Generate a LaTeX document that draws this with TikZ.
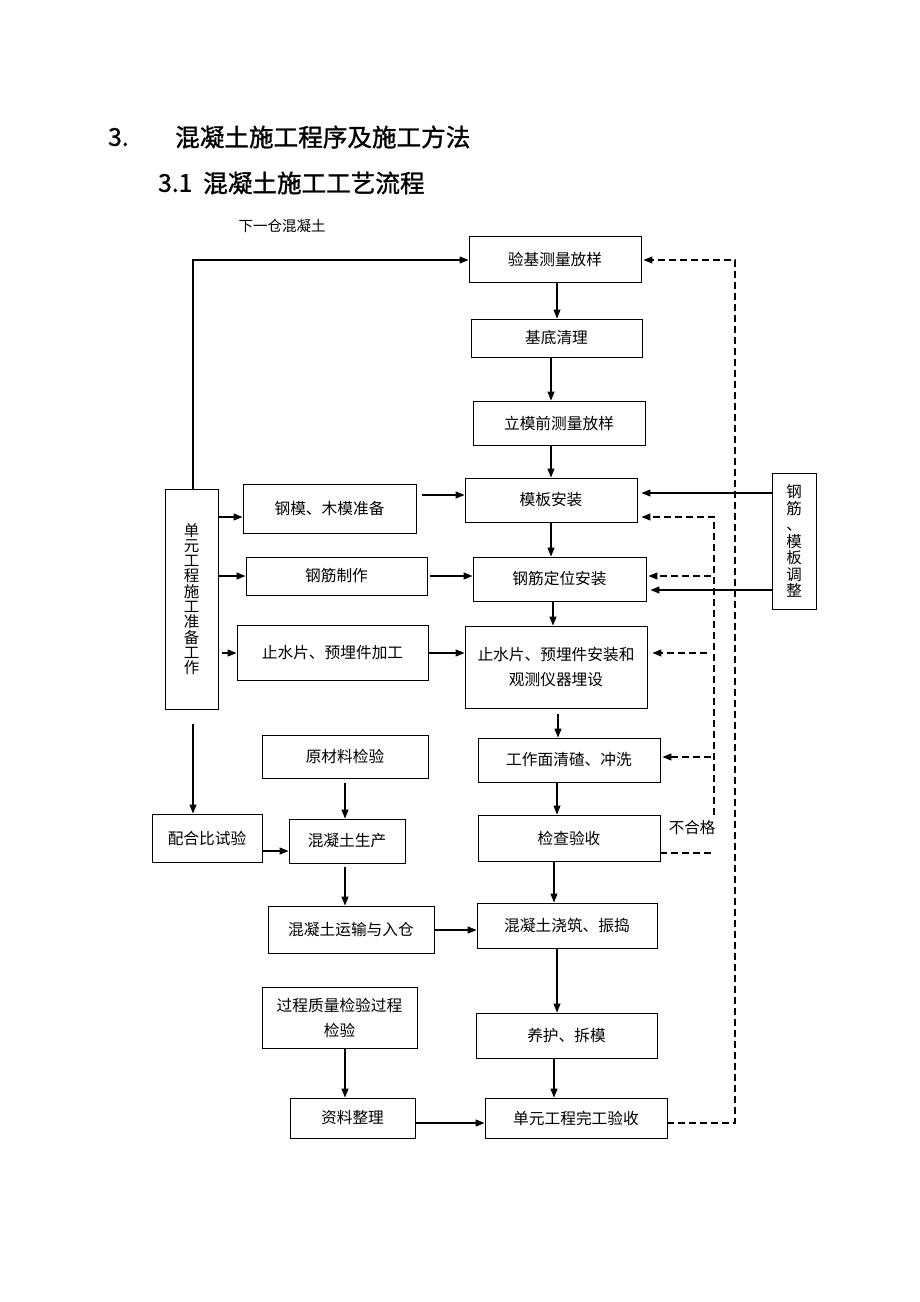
\documentclass[tikz,border=0pt]{standalone}
\usepackage{fontspec}
\setmainfont{Noto Sans CJK SC}
\newfontfamily\titlefont[FakeBold=1.2]{Noto Sans CJK SC}
\usetikzlibrary{arrows.meta}
\begin{document}
\begin{tikzpicture}[x=1pt,y=-1pt,
  box/.style={draw, line width=0.9pt, inner sep=0pt, align=center,
    font=\fontsize{15.7}{25}\selectfont},
  lbl/.style={inner sep=0pt, font=\fontsize{15.5}{18}\selectfont},
  ttl/.style={inner sep=0pt, anchor=west, font=\titlefont\fontsize{24.6}{28}\selectfont},
  arr/.style={-{Triangle[length=9pt,width=7pt]}, line width=1.2pt},
  darr/.style={-{Triangle[length=9pt,width=7pt]}, line width=1.2pt, dash pattern=on 7pt off 4pt},
  dln/.style={line width=1.2pt, dash pattern=on 7pt off 4pt},
]
\useasboundingbox[fill=white] (0,0) rectangle (920,1302);

% titles
\node[ttl] (t1n) at (108,137) {3.};
\node[ttl] (t1) at (175,137) {混凝土施工程序及施工方法};
\node[ttl] (t2n) at (158,183) {3.1};
\node[ttl] (t2) at (203,183) {混凝土施工工艺流程};
\node[lbl, font=\fontsize{14.5}{16}\selectfont] (next) at (282,226) {下一仓混凝土};

% main column
\node[box, minimum width=172pt, minimum height=46pt] (jy) at (555,259) {验基测量放样};
\node[box, minimum width=171pt, minimum height=38pt] (jd) at (556.5,338) {基底清理};
\node[box, minimum width=172pt, minimum height=44pt] (lm) at (559,423) {立模前测量放样};
\node[box, minimum width=172pt, minimum height=44pt] (mb) at (551,500) {模板安装};
\node[box, minimum width=173pt, minimum height=44pt] (gd) at (559.5,579) {钢筋定位安装};
\node[box, minimum width=182pt, minimum height=82pt] (zs) at (556,667) {止水片、预埋件安装和\\观测仪器埋设};
\node[box, minimum width=182pt, minimum height=44pt] (gzm) at (569,760) {工作面清碴、冲洗};
\node[box, minimum width=182pt, minimum height=46pt] (jc) at (569,838) {检查验收};
\node[box, minimum width=180pt, minimum height=45pt] (jz) at (567,925.5) {混凝土浇筑、振捣};
\node[box, minimum width=181pt, minimum height=45pt] (yh) at (566.5,1035.5) {养护、拆模};
\node[box, minimum width=182pt, minimum height=40pt] (wg) at (576,1118) {单元工程完工验收};

% right side
\node[box, minimum width=44pt, minimum height=136pt, font=\fontsize{15.5}{16.5}\selectfont] (tz) at (794,541) {钢\\筋\\、\\模\\板\\调\\整};

% left side
\node[box, minimum width=53pt, minimum height=220pt, font=\fontsize{15.5}{15.3}\selectfont] (dy) at (191.5,599) {单\\元\\工\\程\\施\\工\\准\\备\\工\\作};
\node[box, minimum width=173pt, minimum height=49pt] (gm) at (329.5,508.5) {钢模、木模准备};
\node[box, minimum width=181pt, minimum height=38pt] (gz) at (336.5,576) {钢筋制作};
\node[box, minimum width=191pt, minimum height=55pt] (zj) at (332.5,652.5) {止水片、预埋件加工};
\node[box, minimum width=166pt, minimum height=43pt] (ycl) at (345,756.5) {原材料检验};
\node[box, minimum width=110pt, minimum height=48pt] (ph) at (207,838) {配合比试验};
\node[box, minimum width=116pt, minimum height=44pt] (sc) at (347,841) {混凝土生产};
\node[box, minimum width=166pt, minimum height=47pt] (ys) at (351,929.5) {混凝土运输与入仓};
\node[box, minimum width=155pt, minimum height=61pt] (gc) at (339.5,1017.5) {过程质量检验过程\\检验};
\node[box, minimum width=125pt, minimum height=40pt] (zl) at (352.5,1118) {资料整理};

\node[lbl] (bhg) at (692,828) {不合格};

% main column arrows
\draw[arr] (jy.south -| 557,0) -- (jd.north -| 557,0);
\draw[arr] (jd.south -| 551,0) -- (lm.north -| 551,0);
\draw[arr] (lm.south -| 551,0) -- (mb.north -| 551,0);
\draw[arr] (mb.south -| 551,0) -- (gd.north -| 551,0);
\draw[arr] (gd.south -| 553,0) -- (zs.north -| 553,0);
\coordinate (zsb) at (558,714);
\draw[arr] (zsb) -- (gzm.north -| zsb);
\draw[arr] (gzm.south -| 557,0) -- (jc.north -| 557,0);
\draw[arr] (jc.south -| 554,0) -- (jz.north -| 554,0);
\draw[arr] (jz.south -| 557,0) -- (yh.north -| 557,0);
\draw[arr] (yh.south -| 554,0) -- (wg.north -| 554,0);

% top loop
\coordinate (tp) at (193,260);
\draw[arr] (dy.north -| tp) -- (tp) -- (jy.west |- tp);

% left feeds
\coordinate (g1) at (422,495);
\draw[arr] (g1) -- (mb.west |- g1);
\coordinate (g2) at (430,576);
\draw[arr] (g2) -- (gd.west |- g2);
\draw[arr] (zj.east |- 0,653) -- (zs.west |- 0,653);
\draw[arr] (dy.east |- 0,517) -- (gm.west |- 0,517);
\draw[arr] (dy.east |- 0,576) -- (gz.west |- 0,576);
\coordinate (g3) at (222,653);
\draw[arr] (g3) -- (zj.west |- g3);
\coordinate (g4) at (193,724);
\draw[arr] (g4) -- (ph.north -| g4);
\draw[arr] (ph.east |- 0,851) -- (sc.west |- 0,851);
\coordinate (g6) at (345,783);
\draw[arr] (g6) -- (sc.north -| g6);
\coordinate (g5) at (345,867);
\draw[arr] (g5) -- (ys.north -| g5);
\draw[arr] (ys.east |- 0,930) -- (jz.west |- 0,930);
\draw[arr] (gc.south -| 345,0) -- (zl.north -| 345,0);
\draw[arr] (zl.east |- 0,1123) -- (wg.west |- 0,1123);

% adjustment box arrows
\draw[arr, shorten >=4pt] (tz.west |- 0,493) -- (mb.east |- 0,493);
\draw[arr, shorten >=4pt] (tz.west |- 0,590) -- (gd.east |- 0,590);

% dashed outer loop
\coordinate (o1) at (735,1123);
\coordinate (o2) at (735,260);
\draw[darr, shorten >=2pt] (wg.east |- o1) -- (o1) -- (o2) -- (jy.east |- o2);

% dashed inner loop (broken by the label)
\coordinate (i0) at (714,853);
\coordinate (i1) at (714,815);
\coordinate (i2) at (714,517);
\draw[dln] (jc.east |- i0) -- (i0);
\draw[darr, shorten >=4pt] (i1) -- (i2) -- (mb.east |- i2);
\coordinate (b1) at (711,576);
\draw[darr, shorten >=2pt] (b1) -- (gd.east |- b1);
\coordinate (b2) at (707,653);
\draw[darr, shorten >=5pt] (b2) -- (zs.east |- b2);
\coordinate (b3) at (711,757);
\draw[darr, shorten >=2pt] (b3) -- (gzm.east |- b3);
\end{tikzpicture}
\end{document}
